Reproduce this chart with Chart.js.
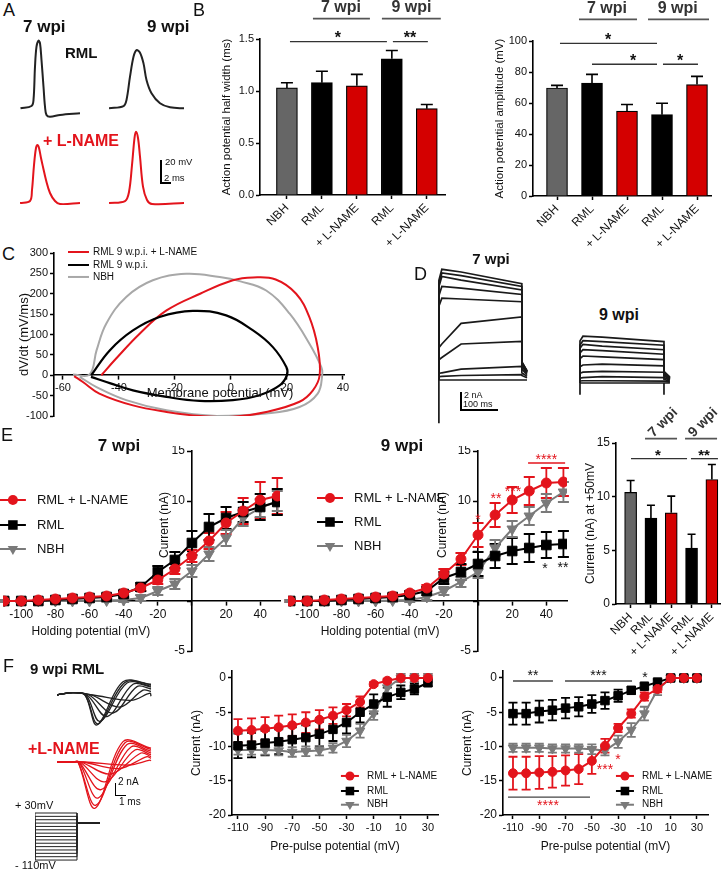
<!DOCTYPE html>
<html>
<head>
<meta charset="utf-8">
<script src="https://cdn.jsdelivr.net/npm/chart.js@4.4.1/dist/chart.umd.min.js"></script>
<style>
  body { margin: 0; background: #fff; }
  #fig { position: relative; width: 728px; height: 869px; overflow: hidden; font-family: "Liberation Sans", Arial, sans-serif; }
  #fig canvas { position: absolute; }
  .t { position: absolute; white-space: nowrap; line-height: 1; color: #111; }
  .bar { position: absolute; background: #000; }
</style>
</head>
<body>
<div id="fig"></div>
<script>
const FONT = '"Liberation Sans", Arial, sans-serif';
const RED = '#e3141c', BARRED = '#d40000', GREY = '#7a7a7a', LGREY = '#a8a8a8';

// ---------- A: action potentials [ms, mV] ----------
const ap7Rml = [[0.1,-65.3],[2.3,-63.3],[2.7,-58],[3.0,-29],[3.3,-11.7],[3.7,-6.5],[4.0,-8.7],[4.3,-23.3],[4.7,-46.5],[5.0,-63.9],[5.3,-71.1],[6.0,-72.6],[8.0,-71.1],[12.0,-69.6]];
const ap9Rml = [[0,-65.3],[2.9,-63.3],[3.5,-58],[4.2,-37.8],[4.9,-20.4],[5.5,-14.6],[6.2,-16.9],[6.9,-26.2],[7.5,-40.7],[8.5,-52.2],[10.2,-60.9],[12.2,-64.4],[15.2,-65.3]];
const ap7Lname = [[0,-65],[2,-63.3],[2.4,-53.7],[2.8,-32],[3.2,-17.2],[3.5,-14.6],[3.8,-17.2],[4.2,-25.9],[4.6,-33.7],[5.2,-45],[6,-56.3],[7,-63.3],[8,-65.9],[12,-65]];
const ap9Lname = [[0,-65],[3.2,-63.3],[4,-55.4],[4.6,-32],[5.1,-8.5],[5.4,-3],[5.8,-8.5],[6.2,-24.7],[6.8,-50.8],[7.6,-62.4],[8.6,-65.9],[15.2,-65]];

// ---------- B: AP bars ----------
const groups = ['NBH', 'RML', '+ L-NAME', 'RML', '+ L-NAME'];
const groupFill = ['#666666', '#000000', BARRED, '#000000', BARRED];
const halfWidth = [1.03, 1.08, 1.05, 1.31, 0.83];
const halfWidthErr = [0.05, 0.11, 0.11, 0.08, 0.04];
const amplitude = [69.7, 72.9, 54.8, 52.5, 71.9];
const amplitudeErr = [1.7, 5.6, 4.2, 7.3, 5.3];
const halfTicks = [0, 0.5, 1.0, 1.5];
const ampTicks = [0, 20, 40, 60, 80, 100];

// ---------- C: phase plots [mV, mV/ms] ----------
const phaseLname = [[-46.3,0],[-41,41],[-32.6,102],[-23,159],[-11,200],[0.7,233],[7.9,240],[16,235],[23.3,200],[28,143],[31,69],[31.7,0],[29.3,-37],[24.5,-65],[12.6,-90],[0.7,-102],[-11,-100],[-23,-90],[-35,-74],[-47,-45],[-53,-16],[-56,-2]];
const phaseRml = [[-49.9,0],[-43.3,61],[-35,110],[-25.5,143],[-13.6,158],[-1.7,147],[7.9,110],[15,69],[19.8,20],[20,0],[17.4,-25],[10.2,-49],[0.7,-61],[-11.2,-63],[-23,-53],[-35,-37],[-43,-20],[-50,-4]];
const phaseNbh = [[-56.4,2],[-50.5,2],[-48,61],[-44.5,127],[-37.4,192],[-27.9,233],[-16,249],[-4,241],[3.1,231],[12.6,208],[21,151],[28,78],[32.3,20],[32.6,0],[31,-45],[24.5,-78],[12.6,-94],[-5,-100],[-23,-86],[-37.4,-61],[-48,-29],[-54,-4]];
const phaseXTicks = [-60, -40, -20, 0, 20, 40];
const phaseYTicks = [-100, -50, 0, 50, 100, 150, 200, 250, 300];

// ---------- D: K+ current families (nA at ~8 ms, ~60 ms, end of step, tail) ----------
const d7Early = [12.3, 11.9, 11.5, 10.4, 9.1, 4.0, 2.5, 0.8, 0.4, 0];
const d7Mid = [12.0, 11.6, 11.1, 10.2, 9.0, 6.3, 4.0, 1.2, 0.5, 0];
const d7End = [10.7, 10.4, 10.0, 9.5, 8.7, 7.0, 4.3, 1.5, 0.6, 0];
const d7Tail = [2.0, 2.0, 1.9, 1.8, 1.7, 1.5, 1.2, 0.8, 0.5, 0];
const d9Early = [5.2, 4.7, 4.3, 3.7, 3.0, 2.0, 1.2, 0.6, 0.25, 0];
const d9Mid = [5.1, 4.6, 4.1, 3.6, 2.9, 2.1, 1.3, 0.7, 0.25, 0];
const d9End = [4.6, 4.2, 3.7, 3.2, 2.6, 1.9, 1.2, 0.6, 0.2, 0];
const d9Tail = [1.3, 1.2, 1.1, 1.0, 0.9, 0.8, 0.6, 0.4, 0.2, 0];

// ---------- E: I-V (holding potential) ----------
const holdV = [-110, -100, -90, -80, -70, -60, -50, -40, -30, -20, -10, 0, 10, 20, 30, 40, 50];
const iv7Lname = [0, 0, 0.1, 0.2, 0.3, 0.4, 0.5, 0.8, 1.3, 2.1, 3.2, 4.5, 6.0, 7.8, 9.0, 10.1, 10.5];
const iv7LnameErr = [0.1, 0.1, 0.1, 0.1, 0.1, 0.1, 0.2, 0.2, 0.3, 0.4, 0.5, 0.6, 0.8, 1.1, 1.3, 1.8, 1.8];
const iv7Rml = [0, 0, 0, 0.1, 0.2, 0.3, 0.4, 0.7, 1.4, 2.9, 4.1, 5.8, 7.4, 8.3, 8.9, 9.4, 9.9];
const iv7RmlErr = [0.1, 0.1, 0.1, 0.1, 0.1, 0.2, 0.2, 0.3, 0.4, 0.6, 0.8, 1.2, 1.3, 1.1, 1.0, 1.3, 1.3];
const iv7Nbh = [0, 0, 0, 0, 0, 0, 0.05, 0.1, 0.3, 1.0, 1.7, 3.0, 4.7, 6.3, 8.3, 9.3, 10.0];
const iv7NbhErr = [0.1, 0.1, 0.1, 0.1, 0.1, 0.1, 0.1, 0.2, 0.3, 0.4, 0.5, 0.6, 0.7, 0.8, 0.8, 0.9, 1.0];
const iv9Lname = [0, 0, 0.1, 0.2, 0.3, 0.4, 0.5, 0.8, 1.3, 2.7, 4.2, 6.6, 8.6, 10.1, 11.0, 11.8, 11.9];
const iv9LnameErr = [0.1, 0.1, 0.1, 0.1, 0.1, 0.1, 0.2, 0.2, 0.3, 0.5, 0.6, 1.2, 1.2, 1.3, 1.4, 1.5, 1.4];
const iv9Rml = [0, 0, 0, 0.1, 0.2, 0.3, 0.4, 0.6, 1.0, 2.3, 2.9, 3.7, 4.5, 5.0, 5.3, 5.6, 5.7];
const iv9RmlErr = [0.1, 0.1, 0.1, 0.1, 0.1, 0.1, 0.2, 0.3, 0.4, 0.6, 0.8, 1.2, 1.2, 1.3, 1.4, 1.3, 1.3];
const iv9Nbh = [0, 0, 0, 0, 0, 0, 0.05, 0.1, 0.4, 1.0, 1.9, 2.9, 5.3, 7.2, 8.5, 9.8, 10.9];
const iv9NbhErr = [0.1, 0.1, 0.1, 0.1, 0.1, 0.1, 0.1, 0.2, 0.3, 0.4, 0.5, 0.6, 0.8, 0.8, 0.9, 0.9, 1.0];
const ivXTicks = [-100, -80, -60, -40, -20, 0, 20, 40];
const ivYTicks = [-5, 0, 5, 10, 15];
const ivYLabels = [15, 10, -5];
const current50 = [10.4, 8.0, 8.5, 5.2, 11.6];
const current50Err = [1.1, 1.2, 1.55, 1.3, 1.4];
const current50Ticks = [0, 5, 10, 15];

// ---------- F: Na+ currents ----------
const naRmlOnset = [2.8, 2.8, 2.9, 3.0, 3.2, 3.4, 3.6];
const naRmlPeakT = [4.0, 4.1, 4.3, 5.0, 5.6, 6.3, 7.4];
const naRmlPeak = [-5.0, -4.8, -4.4, -3.6, -3.0, -2.0, -0.9];
const naRmlOverT = [6.6, 6.8, 7.0, 7.6, 8.0, 8.6, 9.3];
const naRmlOver = [2.2, 2.1, 2.0, 1.8, 1.4, 0.8, 0.3];
const naRmlEnd = [1.8, 1.7, 1.5, 1.3, 1.0, 0.6, -0.2];
const naLnameOnset = [2.1, 2.1, 2.2, 2.2, 2.3, 2.4, 2.6, 2.8];
const naLnamePeakT = [3.8, 3.9, 4.1, 4.4, 4.8, 5.4, 6.2, 7.2];
const naLnamePeak = [-7.7, -7.2, -6.0, -4.6, -3.3, -2.0, -1.1, -0.5];
const naLnameOverT = [6.6, 6.8, 7.0, 7.4, 7.8, 8.4, 9.0, 9.3];
const naLnameOver = [3.4, 3.2, 2.9, 2.5, 2.0, 1.5, 0.9, 0.3];
const naLnameEnd = [2.3, 2.1, 1.8, 1.5, 1.2, 0.9, 0.6, 0.2];
const preV = [-110, -100, -90, -80, -70, -60, -50, -40, -30, -20, -10, 0, 10, 20, 30];
const testV = 0;
const ssMidLname = [-7.7, -7.6, -7.4, -7.2, -6.9, -6.5, -6.1, -5.5, -4.7, -3.5, -0.9, -0.4, 0, 0, 0];
const ssMidLnameErr = [1.7, 1.7, 1.7, 1.7, 1.6, 1.5, 1.4, 1.2, 0.9, 0.8, 0.3, 0.3, 0.6, 0.6, 0.6];
const ssMidRml = [-9.9, -9.8, -9.5, -9.3, -9.0, -8.7, -8.2, -7.5, -6.5, -5.0, -3.8, -2.8, -2.1, -1.6, -0.7];
const ssMidRmlErr = [1.8, 1.8, 1.8, 1.8, 1.8, 1.8, 1.8, 1.7, 1.6, 1.5, 1.4, 1.4, 1.0, 0.8, 0.5];
const ssMidNbh = [-10.5, -10.5, -10.5, -10.6, -10.8, -10.7, -10.6, -10.2, -9.2, -7.7, -5.2, -1.4, 0, 0, 0];
const ssMidNbhErr = [0.7, 0.7, 0.7, 0.7, 0.7, 0.7, 0.7, 0.7, 0.9, 1.0, 0.9, 0.8, 0.6, 0.6, 0.6];
const ssLname = [-13.9, -13.9, -13.8, -13.7, -13.5, -13.3, -12.1, -9.9, -7.3, -5.2, -2.7, -1.6, 0, 0, 0];
const ssLnameErr = [2.4, 2.4, 2.4, 2.3, 2.2, 2.2, 1.9, 1.0, 0.6, 0.6, 0.6, 0.5, 0.3, 0.3, 0.3];
const ssRml = [-5.2, -5.2, -4.9, -4.7, -4.4, -4.2, -3.8, -3.3, -2.6, -1.8, -1.2, -0.6, 0, 0, 0];
const ssRmlErr = [1.6, 1.6, 1.6, 1.5, 1.5, 1.4, 1.3, 1.2, 0.9, 0.5, 0.4, 0.4, 0.3, 0.3, 0.3];
const ssNbh = [-10.2, -10.2, -10.2, -10.3, -10.3, -10.3, -10.4, -10.6, -9.3, -7.6, -5.2, -1.7, 0, 0, 0];
const ssNbhErr = [0.6, 0.6, 0.6, 0.6, 0.6, 0.6, 0.7, 0.7, 0.9, 1.0, 1.0, 0.8, 0.4, 0.4, 0.4];
const ssXTicks = [-110, -90, -70, -50, -30, -10, 10, 30];
const ssYTicks = [-20, -15, -10, -5, 0];

// ---------------------------------------------------------------
const fig = document.getElementById('fig');

function label(s, x, y, size, o = {}) {
  const d = document.createElement('div');
  d.className = 't';
  d.textContent = s;
  d.style.left = x + 'px';
  d.style.top = y + 'px';
  d.style.fontSize = size + 'px';
  if (o.bold) d.style.fontWeight = 'bold';
  if (o.color) d.style.color = o.color;
  if (o.center) d.style.transform = 'translateX(-50%)';
  fig.appendChild(d);
}
function rule(x, y, w, h) {
  const d = document.createElement('div');
  d.className = 'bar';
  Object.assign(d.style, { left: x + 'px', top: y + 'px', width: w + 'px', height: h + 'px' });
  fig.appendChild(d);
}

// area = [L, T, R, B] of the plot area, m = [ml, mt, mr, mb] around it
function canvasAt(area, m, notes) {
  const [L, T, R, B] = area, [ml, mt, mr, mb] = m;
  const c = document.createElement('canvas');
  const w = R - L + ml + mr, h = B - T + mt + mb;
  c.width = w; c.height = h;
  Object.assign(c.style, { left: (L - ml) + 'px', top: (T - mt) + 'px', width: w + 'px', height: h + 'px' });
  c._notes = notes || [];
  fig.appendChild(c);
  return c;
}

function baseOpts(padding, scales) {
  return {
    responsive: false, animation: false, devicePixelRatio: 1, events: [],
    layout: { padding, autoPadding: false },
    plugins: { legend: { display: false }, tooltip: { enabled: false } },
    scales
  };
}

function ax(o) {
  return {
    type: 'linear', min: o.min, max: o.max, position: o.pos, offset: false,
    afterBuildTicks: s => { s.ticks = o.ticks.map(v => ({ value: v })); },
    afterFit: s => {
      if (o.size != null) { if (s.isHorizontal()) s.height = o.size; else s.width = o.size; }
      s.paddingLeft = s.paddingRight = s.paddingTop = s.paddingBottom = 0;
    },
    grid: { display: true, drawOnChartArea: false, drawTicks: true, offset: false, tickLength: 4, tickWidth: 1.5, tickColor: '#000', color: '#000' },
    border: { display: true, color: '#000', width: 1.6 },
    ticks: {
      color: '#111', font: { family: FONT, size: o.fs || 11 }, padding: 2, autoSkip: false,
      maxRotation: o.rot || 0, minRotation: o.rot || 0, callback: o.fmt || (v => v)
    },
    title: o.title ? { display: true, text: o.title, color: '#111', font: { family: FONT, size: o.tfs || 12 }, padding: 0 } : { display: false }
  };
}

function hidden(min, max) { return { type: 'linear', display: false, min, max }; }

// error bars from dataset.err
function drawErrs(chart, bars) {
  const ctx = chart.ctx, ys = chart.scales.y;
  chart.data.datasets.forEach((ds, i) => {
    if (!ds.err || (!!ds.upOnly) !== bars) return;
    const meta = chart.getDatasetMeta(i);
    ctx.save();
    ctx.strokeStyle = ds.errColor || ds.borderColor;
    ctx.lineWidth = ds.errWidth || 1.6;
    meta.data.forEach((el, j) => {
      const v = ds.data[j].y, e = ds.err[j], c = ds.cap / 2;
      const x = el.x, yt = ys.getPixelForValue(v + e);
      const yb = bars ? el.y : ys.getPixelForValue(v - e);
      ctx.beginPath();
      ctx.moveTo(x, yb); ctx.lineTo(x, yt);
      ctx.moveTo(x - c, yt); ctx.lineTo(x + c, yt);
      if (!bars) { ctx.moveTo(x - c, yb); ctx.lineTo(x + c, yb); }
      ctx.stroke();
    });
    ctx.restore();
  });
}
const errPlugin = {
  id: 'errs',
  beforeDatasetsDraw(chart) { drawErrs(chart, false); },
  afterDatasetsDraw(chart) { drawErrs(chart, true); }
};

function mark(ctx, st, x, y, r, c) {
  ctx.fillStyle = c;
  ctx.beginPath();
  if (st === 'circle') ctx.arc(x, y, r, 0, Math.PI * 2);
  else if (st === 'rect') { const s = r * Math.SQRT1_2; ctx.rect(x - s, y - s, 2 * s, 2 * s); }
  else { ctx.moveTo(x, y + r); ctx.lineTo(x - 0.866 * r, y - 0.5 * r); ctx.lineTo(x + 0.866 * r, y - 0.5 * r); ctx.closePath(); }
  ctx.fill();
}

// extra text, lines and legends, placed in data coordinates
const notesPlugin = {
  id: 'notes',
  afterDraw(chart) {
    const list = chart.canvas._notes;
    if (!list || !list.length) return;
    const ctx = chart.ctx, sx = chart.scales.x, sy = chart.scales.y;
    const X = v => sx.getPixelForValue(v), Y = v => sy.getPixelForValue(v);
    ctx.save();
    for (const n of list) {
      if (n.k === 'line') {
        ctx.strokeStyle = n.c || '#000'; ctx.lineWidth = n.w || 1.5;
        ctx.beginPath(); ctx.moveTo(X(n.x0), Y(n.y)); ctx.lineTo(X(n.x1), Y(n.y)); ctx.stroke();
      } else if (n.k === 'text') {
        ctx.font = (n.b ? 'bold ' : '') + n.f + 'px ' + FONT;
        ctx.fillStyle = n.c || '#111';
        ctx.textAlign = n.a || 'center';
        ctx.textBaseline = 'middle';
        let x = X(n.x) + (n.dx || 0), y = Y(n.y);
        if (/^\*+$/.test(n.s)) y += n.f * 0.22;
        ctx.save(); ctx.translate(x, y);
        if (n.rot) ctx.rotate(n.rot * Math.PI / 180);
        ctx.fillText(n.s, 0, 0);
        ctx.restore();
      } else if (n.k === 'leg') {
        const x = X(n.x), y = Y(n.y);
        ctx.strokeStyle = n.c; ctx.lineWidth = 2;
        ctx.beginPath(); ctx.moveTo(x - n.h, y); ctx.lineTo(x + n.h, y); ctx.stroke();
        mark(ctx, n.st, x, y, n.r, n.c);
        ctx.font = n.f + 'px ' + FONT; ctx.fillStyle = '#111';
        ctx.textAlign = 'left'; ctx.textBaseline = 'middle';
        ctx.fillText(n.s, x + n.g, y);
      }
    }
    ctx.restore();
  }
};
Chart.register(errPlugin, notesPlugin);

function pts(list) { return list.map(p => ({ x: p[0], y: p[1] })); }

function traceChart(area, xr, yr, sets) {
  const c = canvasAt(area, [0, 0, 0, 0]);
  new Chart(c, {
    type: 'line',
    data: { datasets: sets.map(s => ({ data: pts(s.p), borderColor: s.c, borderWidth: s.w || 2, pointRadius: 0, tension: s.t == null ? 0.35 : s.t, fill: false })) },
    options: baseOpts({ left: 0, top: 0, right: 0, bottom: 0 }, { x: hidden(xr[0], xr[1]), y: hidden(yr[0], yr[1]) })
  });
}

// ---------------- A ----------------
traceChart([20, 30, 95, 125], [0, 15], [-79.8, 2.83], [{ p: ap7Rml, c: '#222' }]);
traceChart([109, 30, 184, 125], [0, 15], [-79.8, 2.83], [{ p: ap9Rml, c: '#222' }]);
traceChart([20, 120, 95, 210], [0, 15], [-71.1, 7.17], [{ p: ap7Lname, c: RED }]);
traceChart([109, 120, 184, 210], [0, 15], [-71.1, 7.17], [{ p: ap9Lname, c: RED }]);
label('A', 3, 1, 18);
label('7 wpi', 23, 18, 17, { bold: true });
label('9 wpi', 147, 18, 17, { bold: true });
label('RML', 65, 45, 15, { bold: true });
label('+ L-NAME', 43, 133, 16, { bold: true, color: RED });
rule(160, 160, 1.5, 23); rule(160, 182, 11, 1.5);
label('20 mV', 165, 157, 9.5);
label('2 ms', 164, 173, 9.5);

// ---------------- B ----------------
function barSet(vals, errs, thick, cap) {
  return {
    data: vals.map((v, i) => ({ x: i, y: v })), err: errs, upOnly: true, cap,
    backgroundColor: groupFill, borderColor: '#000', borderWidth: 1.2, barThickness: thick, errColor: '#000'
  };
}
const catFmt = v => groups[v] == null ? '' : groups[v];
label('B', 193, 1, 18);
new Chart(canvasAt([260, 39, 445, 195], [40, 39, 8, 75], [
  { k: 'line', x0: 0.744, x1: 2.373, y: 1.696, c: '#555', w: 1.8 },
  { k: 'text', x: 1.544, y: 1.80, s: '7 wpi', f: 16, b: true, c: '#333' },
  { k: 'line', x0: 2.716, x1: 4.40, y: 1.696, c: '#555', w: 1.8 },
  { k: 'text', x: 3.56, y: 1.80, s: '9 wpi', f: 16, b: true, c: '#333' },
  { k: 'line', x0: 0.087, x1: 2.859, y: 1.474, c: '#333', w: 1.3 },
  { k: 'text', x: 1.459, y: 1.537, s: '*', f: 16, b: true },
  { k: 'line', x0: 3.03, x1: 4.03, y: 1.474, c: '#333', w: 1.3 },
  { k: 'text', x: 3.516, y: 1.537, s: '**', f: 16, b: true }
]), {
  type: 'bar',
  data: { datasets: [barSet(halfWidth, halfWidthErr, 21, 12)] },
  options: baseOpts({ left: 0, top: 39, right: 8, bottom: 0 }, {
    x: ax({ min: -0.77, max: 4.52, ticks: [0, 1, 2, 3, 4], fmt: catFmt, pos: 'bottom', size: 75, rot: 45, fs: 12 }),
    y: ax({ min: 0, max: 1.5, ticks: halfTicks, fmt: v => v.toFixed(1), pos: 'left', size: 40, fs: 11, title: 'Action potential half width (ms)', tfs: 11.5 })
  })
});
new Chart(canvasAt([533, 41, 711, 196], [40, 41, 10, 75], [
  { k: 'line', x0: 0.628, x1: 2.286, y: 114, c: '#555', w: 1.8 },
  { k: 'text', x: 1.428, y: 121, s: '7 wpi', f: 16, b: true, c: '#333' },
  { k: 'line', x0: 2.6, x1: 4.343, y: 114, c: '#555', w: 1.8 },
  { k: 'text', x: 3.45, y: 121, s: '9 wpi', f: 16, b: true, c: '#333' },
  { k: 'line', x0: 0.085, x1: 2.857, y: 98.5, c: '#333', w: 1.3 },
  { k: 'text', x: 1.457, y: 102.7, s: '*', f: 16, b: true },
  { k: 'line', x0: 1.0, x1: 2.857, y: 85, c: '#333', w: 1.3 },
  { k: 'text', x: 2.171, y: 89.2, s: '*', f: 16, b: true },
  { k: 'line', x0: 3.028, x1: 4.028, y: 85, c: '#333', w: 1.3 },
  { k: 'text', x: 3.514, y: 89.2, s: '*', f: 16, b: true }
]), {
  type: 'bar',
  data: { datasets: [barSet(amplitude, amplitudeErr, 21, 12)] },
  options: baseOpts({ left: 0, top: 41, right: 10, bottom: 0 }, {
    x: ax({ min: -0.686, max: 4.4, ticks: [0, 1, 2, 3, 4], fmt: catFmt, pos: 'bottom', size: 75, rot: 45, fs: 12 }),
    y: ax({ min: 0, max: 100, ticks: ampTicks, pos: 'left', size: 40, fs: 11, title: 'Action potential amplitude (mV)', tfs: 11.5 })
  })
});

// ---------------- C ----------------
label('C', 2, 245, 18);
new Chart(canvasAt([54, 253, 344, 416], [37, 9, 10, 22], [
  { k: 'line', x0: -58.2, x1: -50.7, y: 302.5, c: RED, w: 2 },
  { k: 'text', x: -49.3, y: 302.5, s: 'RML 9 w.p.i. + L-NAME', f: 10, a: 'left' },
  { k: 'line', x0: -58.2, x1: -50.7, y: 270.6, c: '#000', w: 2 },
  { k: 'text', x: -49.3, y: 270.6, s: 'RML 9 w.p.i.', f: 10, a: 'left' },
  { k: 'line', x0: -58.2, x1: -50.7, y: 241.2, c: LGREY, w: 2 },
  { k: 'text', x: -49.3, y: 241.2, s: 'NBH', f: 10, a: 'left' },
  { k: 'text', x: -3.9, y: -43.6, s: 'Membrane potential (mV)', f: 13 }
]), {
  type: 'line',
  data: {
    datasets: [
      { data: pts(phaseRml), borderColor: '#000', borderWidth: 2.2, pointRadius: 0, tension: 0.4 },
      { data: pts(phaseLname), borderColor: RED, borderWidth: 2, pointRadius: 0, tension: 0.4 },
      { data: pts(phaseNbh), borderColor: LGREY, borderWidth: 2, pointRadius: 0, tension: 0.4 }
    ]
  },
  options: baseOpts({ left: 0, top: 9, right: 10, bottom: 22 }, {
    x: ax({ min: -63.2, max: 40.4, ticks: phaseXTicks, pos: { y: 0 }, fs: 11 }),
    y: ax({ min: -100, max: 300, ticks: phaseYTicks, pos: 'left', size: 37, fs: 11, title: 'dV/dt (mV/ms)', tfs: 13 })
  })
});

// ---------------- D ----------------
function kTraces(early, mid, end, tail, stepEnd, tailEnd) {
  return early.map((e, i) => ({
    p: [[0, 0], [0, e * 0.9], [8, e], [60, mid[i]], [stepEnd, end[i]], [stepEnd, tail[i]], [tailEnd, tail[i] * 0.5]],
    c: '#1a1a1a', w: 1.7, t: 0
  }));
}
label('D', 414, 265, 18);
label('7 wpi', 491, 251, 15, { bold: true, center: true });
label('9 wpi', 619, 307, 16, { bold: true, center: true });
traceChart([430, 255, 540, 432], [-24, 273], [-5.78, 13.89],
  kTraces(d7Early, d7Mid, d7End, d7Tail, 224, 238).concat([{ p: [[0, 0], [0, -4.8]], c: '#1a1a1a', w: 1.7, t: 0 }]));
traceChart([570, 300, 680, 432], [-27, 270.3], [-5.44, 9.22],
  kTraces(d9Early, d9Mid, d9End, d9Tail, 227, 243).concat([
    { p: [[0, 0], [0, -1.3]], c: '#1a1a1a', w: 1.7, t: 0 },
    { p: [[227, 0], [227, -1.3]], c: '#1a1a1a', w: 1.7, t: 0 }]));
rule(460, 392, 1.5, 18); rule(460, 409, 38, 1.5);
label('2 nA', 464, 391, 9);
label('100 ms', 463, 400, 9);

// ---------------- E ----------------
function ivSet(xs, ys, err, color, st, r, cap) {
  return {
    data: xs.map((x, i) => ({ x, y: ys[i] })), err, cap,
    borderColor: color, backgroundColor: color, pointBackgroundColor: color, pointBorderColor: color,
    borderWidth: 2, pointStyle: st, pointRadius: r, pointBorderWidth: 1,
    pointRotation: st === 'triangle' ? 180 : 0, tension: 0, errWidth: 1.8
  };
}
function legItems(x, ys, f, r, h, g) {
  return [
    { k: 'leg', x, y: ys[0], c: RED, st: 'circle', r, h, g, s: 'RML + L-NAME', f },
    { k: 'leg', x, y: ys[1], c: '#000', st: 'rect', r: r * 1.35, h, g, s: 'RML', f },
    { k: 'leg', x, y: ys[2], c: GREY, st: 'tri', r: r * 1.2, h, g, s: 'NBH', f }
  ];
}
// y labels of the crossing axis, drawn just left of the axis line
const ivYText = ivYLabels.map(v => ({ k: 'text', x: 0, dx: -7, y: v, s: String(v), f: 12, a: 'right' }));
label('E', 1, 426, 18);
label('7 wpi', 119, 437, 17, { bold: true, center: true });
label('9 wpi', 402, 437, 17, { bold: true, center: true });
const ivX = { ticks: ivXTicks, pos: { y: 0 }, fs: 12, fmt: v => v === 0 ? '' : v };
const ivY = { min: -5, max: 15, ticks: ivYTicks, pos: { x: 0 }, fs: 12, fmt: () => '' };
new Chart(canvasAt([3, 451, 280, 651], [3, 5, 6, 12], [
  { k: 'text', x: -15.8, y: 7.6, s: 'Current (nA)', f: 12, rot: -90 },
  { k: 'text', x: -59.2, y: -3.1, s: 'Holding potential (mV)', f: 12 }
].concat(ivYText, legItems(-104.9, [10.1, 7.6, 5.2], 13, 5, 13, 24))), {
  type: 'line',
  data: {
    datasets: [
      ivSet(holdV, iv7Lname, iv7LnameErr, RED, 'circle', 5, 11),
      ivSet(holdV, iv7Rml, iv7RmlErr, '#000', 'rect', 6.8, 11),
      ivSet(holdV, iv7Nbh, iv7NbhErr, GREY, 'triangle', 6, 11)
    ]
  },
  options: baseOpts({ left: 3, top: 5, right: 6, bottom: 12 }, {
    x: ax(Object.assign({ min: -110.7, max: 51.6 }, ivX)),
    y: ax(ivY)
  })
});
new Chart(canvasAt([288, 451, 567, 651], [5, 5, 6, 12], [
  { k: 'text', x: -20.5, y: 7.6, s: 'Current (nA)', f: 12, rot: -90 },
  { k: 'text', x: -57.4, y: -3.1, s: 'Holding potential (mV)', f: 12 },
  { k: 'text', x: 0, y: 8.4, s: '*', f: 14, c: RED },
  { k: 'text', x: 10.5, y: 10.5, s: '**', f: 14, c: RED },
  { k: 'text', x: 20.5, y: 11.2, s: '***', f: 14, c: RED },
  { k: 'text', x: 40, y: 14.4, s: '****', f: 14, c: RED },
  { k: 'line', x0: 29.3, x1: 51, y: 13.8, c: RED, w: 1.3 },
  { k: 'text', x: 39.2, y: 3.5, s: '*', f: 14 },
  { k: 'text', x: 49.8, y: 3.6, s: '**', f: 14 }
].concat(ivYText, legItems(-86.7, [10.3, 7.9, 5.5], 13, 5, 13, 24))), {
  type: 'line',
  data: {
    datasets: [
      ivSet(holdV, iv9Lname, iv9LnameErr, RED, 'circle', 5, 11),
      ivSet(holdV, iv9Rml, iv9RmlErr, '#000', 'rect', 6.8, 11),
      ivSet(holdV, iv9Nbh, iv9NbhErr, GREY, 'triangle', 6, 11)
    ]
  },
  options: baseOpts({ left: 5, top: 5, right: 6, bottom: 12 }, {
    x: ax(Object.assign({ min: -111.3, max: 52.1 }, ivX)),
    y: ax(ivY)
  })
});
new Chart(canvasAt([616, 443, 720, 604], [33, 45, 8, 75], [
  { k: 'line', x0: 0.709, x1: 2.285, y: 15.41, c: '#555', w: 1.8 },
  { k: 'line', x0: 2.679, x1: 4.255, y: 15.41, c: '#555', w: 1.8 },
  { k: 'text', x: 1.595, y: 16.9, s: '7 wpi', f: 14, b: true, c: '#333', rot: -45 },
  { k: 'text', x: 3.566, y: 16.9, s: '9 wpi', f: 14, b: true, c: '#333', rot: -45 },
  { k: 'line', x0: 0.019, x1: 2.777, y: 13.54, c: '#333', w: 1.3 },
  { k: 'text', x: 1.349, y: 14.15, s: '*', f: 15, b: true },
  { k: 'line', x0: 2.97, x1: 4.3, y: 13.54, c: '#333', w: 1.3 },
  { k: 'text', x: 3.615, y: 14.15, s: '**', f: 15, b: true }
]), {
  type: 'bar',
  data: { datasets: [barSet(current50, current50Err, 12, 8)] },
  options: baseOpts({ left: 0, top: 45, right: 8, bottom: 0 }, {
    x: ax({ min: -0.72, max: 4.4, ticks: [0, 1, 2, 3, 4], fmt: catFmt, pos: 'bottom', size: 75, rot: 45, fs: 12 }),
    y: ax({ min: 0, max: 15, ticks: current50Ticks, pos: 'left', size: 33, fs: 12, title: 'Current (nA) at +50mV', tfs: 12 })
  })
});

// ---------------- F ----------------
function naTraces(onset, peakT, peak, overT, over, end, pre, color) {
  return onset.map((o, i) => ({
    p: [[0, 0], [1.6, pre], [o, 0], [peakT[i], peak[i]], [overT[i], over[i]], [9.4, end[i]]],
    c: color, w: 1.3, t: 0.35
  }));
}
label('F', 3, 657, 18);
label('9 wpi RML', 30, 661, 15, { bold: true });
label('+L-NAME', 28, 741, 16, { bold: true, color: RED });
traceChart([57, 665, 152, 735], [0, 9.5], [-6.67, 5.0],
  naTraces(naRmlOnset, naRmlPeakT, naRmlPeak, naRmlOverT, naRmlOver, naRmlEnd, 0.4, '#222'));
traceChart([57, 735, 152, 815], [0, 9.5], [-8.83, 4.5],
  naTraces(naLnameOnset, naLnamePeakT, naLnamePeak, naLnameOverT, naLnameOver, naLnameEnd, 0, RED));
rule(115, 783, 1.3, 12); rule(115, 795, 11, 1.3);
label('2 nA', 118, 777, 10);
label('1 ms', 119, 797, 10);
traceChart([35, 808, 100, 862], [0, 65], [-115.8, 44.9],
  preV.map(v => ({ p: [[0, testV], [0, v], [42, v], [42, testV], [65, testV]], c: '#222', w: 1, t: 0 })));
label('+ 30mV', 15, 800, 11);
label('- 110mV', 15, 860, 11);

const ssX = { ticks: ssXTicks, pos: 'bottom', size: 39, fs: 11, title: 'Pre-pulse potential (mV)', tfs: 12 };
const ssY = { min: -20, max: 1.02, ticks: ssYTicks, pos: 'left', size: 43, fs: 12, title: 'Current (nA)', tfs: 12 };
new Chart(canvasAt([232, 671, 438, 815], [43, 5, 6, 39], legItems(-27.5, [-14.3, -16.5, -18.5], 10, 4.5, 9, 17)), {
  type: 'line',
  data: {
    datasets: [
      ivSet(preV, ssMidLname, ssMidLnameErr, RED, 'circle', 4.5, 9),
      ivSet(preV, ssMidRml, ssMidRmlErr, '#000', 'rect', 6, 9),
      ivSet(preV, ssMidNbh, ssMidNbhErr, GREY, 'triangle', 5.5, 9)
    ]
  },
  options: baseOpts({ left: 0, top: 5, right: 6, bottom: 0 }, {
    x: ax(Object.assign({ min: -114.4, max: 37.4 }, ssX)),
    y: ax(ssY)
  })
});
new Chart(canvasAt([503, 671, 708, 815], [43, 5, 8, 39], [
  { k: 'line', x0: -110, x1: -79.6, y: -0.44, c: '#444', w: 1.3 },
  { k: 'text', x: -94.8, y: 0.7, s: '**', f: 14 },
  { k: 'line', x0: -70.4, x1: -19.4, y: -0.44, c: '#444', w: 1.3 },
  { k: 'text', x: -45, y: 0.7, s: '***', f: 14 },
  { k: 'text', x: -9.5, y: 0.4, s: '*', f: 14 },
  { k: 'text', x: -30.1, y: -11.5, s: '*', f: 14, c: RED },
  { k: 'text', x: -40, y: -13.0, s: '***', f: 14, c: RED },
  { k: 'line', x0: -113.8, x1: -51.4, y: -17.4, c: '#444', w: 1.3 },
  { k: 'text', x: -83.4, y: -18.2, s: '****', f: 14, c: RED }
].concat(legItems(-24.8, [-14.3, -16.5, -18.5], 10, 4.5, 9, 17))), {
  type: 'line',
  data: {
    datasets: [
      ivSet(preV, ssLname, ssLnameErr, RED, 'circle', 4.5, 9),
      ivSet(preV, ssRml, ssRmlErr, '#000', 'rect', 6, 9),
      ivSet(preV, ssNbh, ssNbhErr, GREY, 'triangle', 5.5, 9)
    ]
  },
  options: baseOpts({ left: 0, top: 5, right: 8, bottom: 0 }, {
    x: ax(Object.assign({ min: -117.6, max: 38.4 }, ssX)),
    y: ax(ssY)
  })
});
</script>
</body>
</html>
